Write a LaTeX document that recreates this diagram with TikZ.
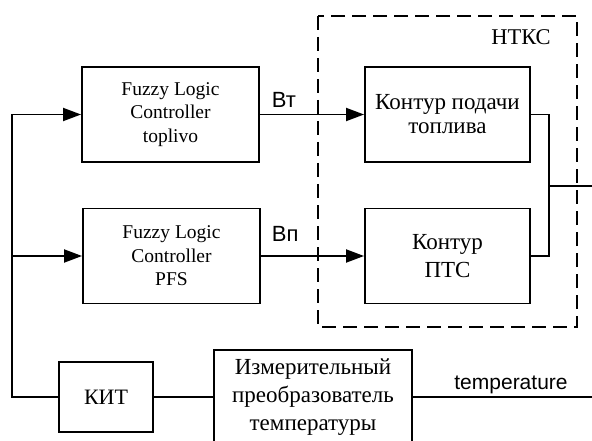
\documentclass[tikz,border=0pt]{standalone}
\usepackage{fontspec}
\setmainfont{Liberation Serif}
\setsansfont{Liberation Sans}
\usetikzlibrary{arrows.meta}
\usetikzlibrary{positioning}

\begin{document}
\begin{tikzpicture}[x=1pt,y=-1pt,line width=1.9pt,>={Triangle[length=18pt,width=13pt]},
  block/.style={draw,rectangle,align=center,inner sep=0pt},
  flc/.style={block,minimum width=177pt,minimum height=95pt,font=\fontsize{19.5}{23.5}\selectfont},
  kontur/.style={block,minimum width=165pt,minimum height=95pt,font=\fontsize{23}{24}\selectfont},
  sig/.style={inner sep=0pt,font=\sffamily\fontsize{22}{24}\selectfont}]
\useasboundingbox (0,0) rectangle (592,441);
% regulators
\node[flc] (flcT) at (170.5,114.5) {Fuzzy Logic\\Controller\\toplivo};
\node[flc] (flcP) at (171.5,256) {Fuzzy Logic\\Controller\\PFS};
% NTKS
\draw[line width=1.7pt,dash pattern=on 14pt off 7pt] (318,16) rectangle (577,327);
\node[inner sep=0pt,anchor=base,font=\fontsize{22.5}{24}\selectfont] (ntks) at (521,45) {НТКС};
\node[kontur] (kpod) at (447.5,114.5) {Контур подачи\\топлива};
\node[kontur,font=\fontsize{23}{28}\selectfont] (kpts) at (447.5,256) {Контур\\ПТС};
% measurement
\node[block,minimum width=94pt,minimum height=70pt,font=\fontsize{22}{24}\selectfont] (kit) at (106,397) {КИТ};
\node[block,minimum width=198pt,minimum height=94pt,font=\fontsize{23}{28}\selectfont] (izm) at (313,397) {Измерительный\\преобразователь\\температуры};
\coordinate (jT) at (12,114.5);
\coordinate (jP) at (12,256);
\coordinate (jr) at (549,186);
\coordinate (outR) at (592,186);
\coordinate (outT) at (592,397);
% connections
\draw[->] (jT) -- (flcT.west);
\draw[->] (jP) -- (flcP.west);
\draw (kit.west) -| (jT);
\draw (kit.east) -- (izm.west);
\draw (izm.east) -- (outT);
\draw[->] (flcT.east) -- (kpod.west);
\draw[->] (flcP.east) -- (kpts.west);
\draw (kpod.east) -| (jr) |- (kpts.east);
\draw (jr) -- (outR);
% labels
\node[sig,anchor=base west] (bt) at (271,108) {Вт};
\node[sig,anchor=base west] (bp) at (271,241) {Вп};
\node[sig,font=\sffamily\fontsize{21}{24}\selectfont,anchor=base] (temp) at (511,389) {temperature};
\end{tikzpicture}
\end{document}
